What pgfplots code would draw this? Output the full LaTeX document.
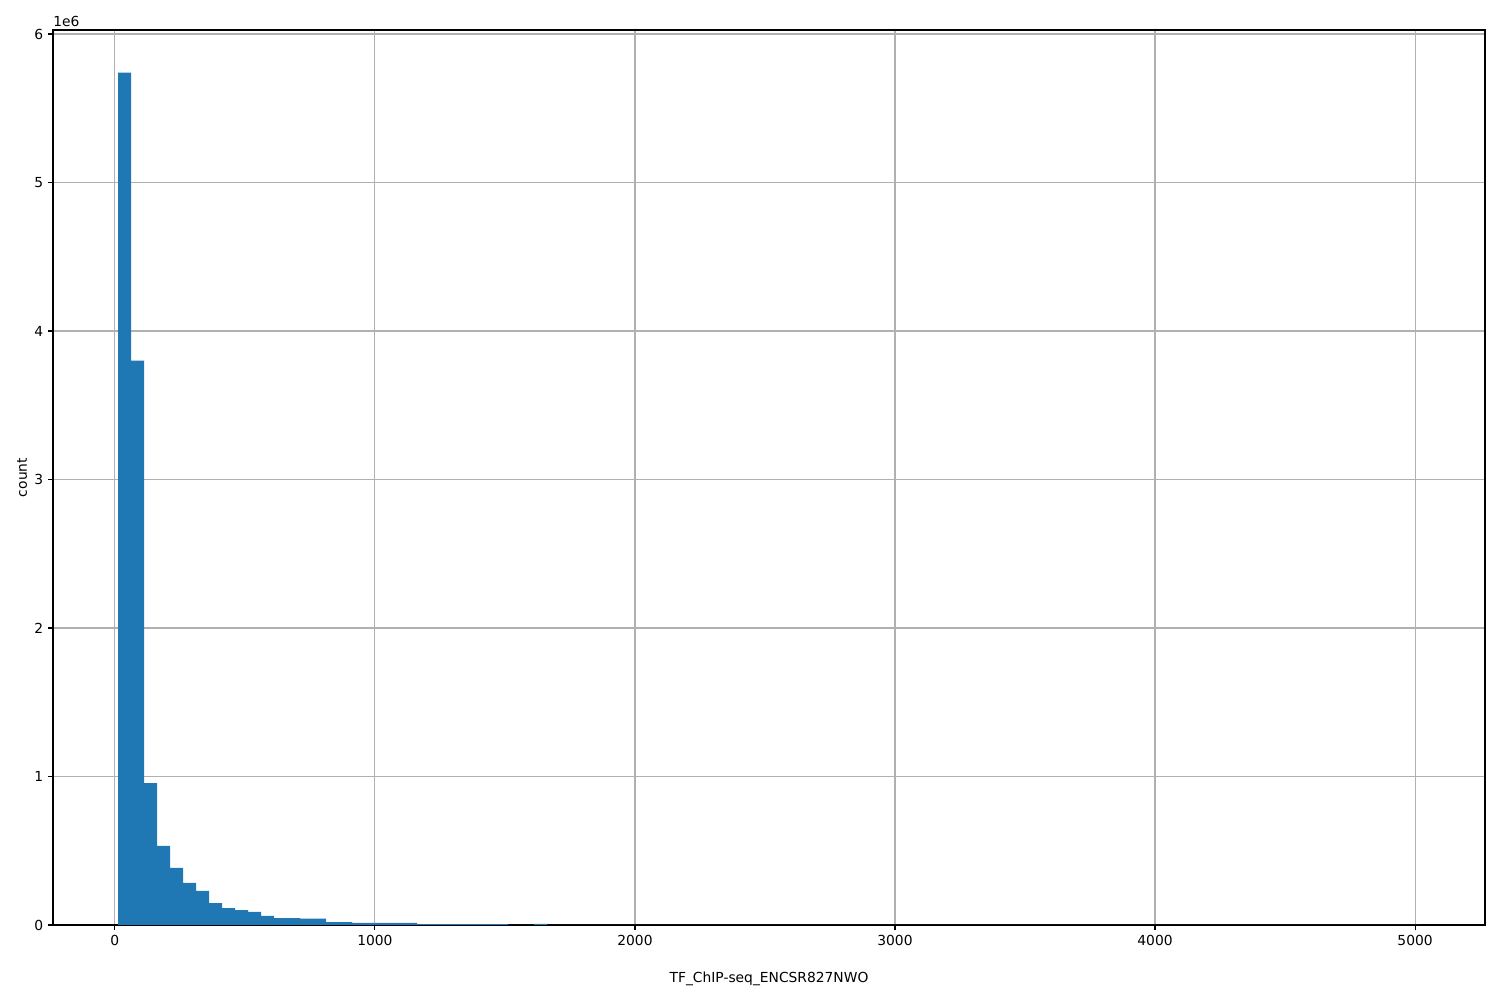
\documentclass[border=0pt]{standalone}
\usepackage{pgfplots}
\pgfplotsset{compat=1.18}
\usepackage{fontspec}
\setmainfont{DejaVu Sans}
\definecolor{mplblue}{HTML}{1F77B4}
\definecolor{gridgray}{HTML}{B0B0B0}
\begin{document}
\fontsize{10}{12}\selectfont
\begin{tikzpicture}
\begin{axis}[
  scale only axis,
  width=14.32in, height=8.95in,
  xmin=-238, xmax=5269, ymin=0, ymax=6.027,
  xtick={0,1000,2000,3000,4000,5000},
  ytick={0,1,2,3,4,5,6},
  /pgf/number format/assume math mode=true,
  /pgf/number format/1000 sep={},
  scaled y ticks=false,
  grid=major,
  grid style={gridgray, line width=0.8pt},
  axis line style={black, line width=0.8pt},
  tick style={black, line width=0.8pt},
  major tick length=3.5pt,
  tick align=outside,
  xtick pos=bottom, ytick pos=left,
  tick label style={font=\fontsize{10}{12}\selectfont},
  xlabel={TF\_ChIP-seq\_ENCSR827NWO},
  ylabel={count},
  label style={font=\fontsize{10}{12}\selectfont},
  xlabel style={yshift=-12.5pt},
  ylabel style={yshift=-1.6pt},
  axis on top=false,
]
\addplot[ybar interval, fill=mplblue, draw=none] coordinates {
(12,5.74) (62,3.80) (112,0.956) (162,0.532) (212,0.384) (262,0.283)
(312,0.229) (362,0.148) (412,0.114) (462,0.101) (512,0.088) (562,0.061)
(612,0.047) (662,0.047) (712,0.043) (762,0.043) (812,0.020) (862,0.020)
(912,0.015) (962,0.015) (1012,0.015) (1062,0.015) (1112,0.015)
(1162,0.006) (1212,0.006) (1262,0.006) (1312,0.006) (1362,0.006) (1412,0.006) (1462,0.006)
(1512,0.0005) (1562,0.0005) (1612,0.007) (1662,0.0005) (1712,0.0003)
(1762,0.0002) (1812,0.0002) (1862,0.0001) (1912,0.0001) (1962,0.0001)
(2012,0.0001) (4962,0.0001) (5018,0.0001)
};
\end{axis}
\node[anchor=south west, inner sep=0pt] at (0in,8.98in) {1e6};
\path[use as bounding box] (-0.53in,-0.75in) rectangle (14.47in,9.25in);
\end{tikzpicture}
\end{document}
